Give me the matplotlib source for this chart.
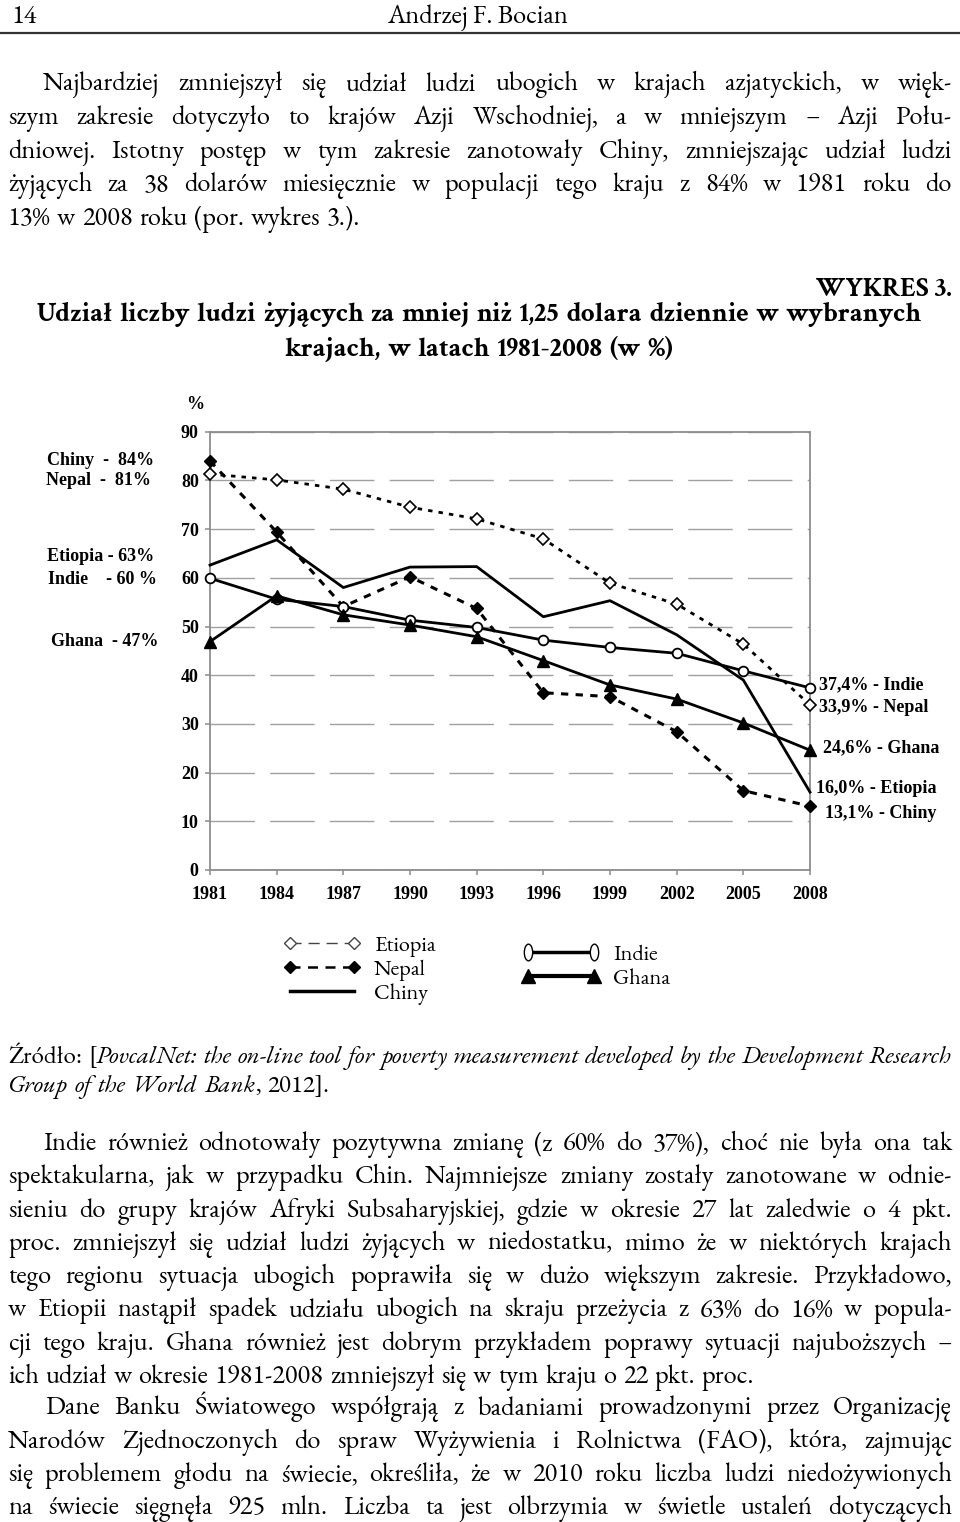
import matplotlib
matplotlib.use('Agg')
import matplotlib.pyplot as plt
from matplotlib.lines import Line2D
from matplotlib.path import Path
from matplotlib.transforms import Affine2D

#page text is set in Garamond, chart labels in a Times-like bold
BODY = ['EB Garamond', 'Liberation Serif', 'DejaVu Serif']
TITLE = ['Crimson Text', 'Liberation Serif', 'DejaVu Serif']
CHART = ['Liberation Serif', 'DejaVu Serif']
plt.rcParams['font.family'] = BODY

#Data (share of people below 1,25 USD a day, %)
years = [1981, 1984, 1987, 1990, 1993, 1996, 1999, 2002, 2005, 2008]
chiny = [84.0, 69.4, 54.1, 60.2, 53.7, 36.4, 35.6, 28.4, 16.3, 13.1]
nepal = [81.3, 80.1, 78.2, 74.5, 72.1, 68.0, 58.9, 54.6, 46.4, 33.9]
etiopia = [62.6, 67.8, 58.0, 62.2, 62.3, 52.0, 55.3, 48.3, 39.0, 16.0]
indie = [59.9, 55.6, 54.1, 51.3, 49.8, 47.2, 45.7, 44.5, 40.9, 37.4]
ghana = [46.9, 56.3, 52.4, 50.3, 47.9, 43.0, 38.0, 35.1, 30.2, 24.6]
y_ticks = [0, 10, 20, 30, 40, 50, 60, 70, 80, 90]

left_notes = ['Chiny  -  84%', 'Nepal  -  81%', 'Etiopia - 63%', 'Indie    - 60 %', 'Ghana  - 47%']
right_notes = ['37,4% - Indie', '33,9% - Nepal', '24,6% - Ghana', '16,0% - Etiopia', '13,1% - Chiny']
legend_left = ['Etiopia', 'Nepal', 'Chiny']
legend_right = ['Indie', 'Ghana']

para1 = ['Najbardziej zmniejszył się udział ludzi ubogich w krajach azjatyckich, w więk-',
         'szym zakresie dotyczyło to krajów Azji Wschodniej, a w mniejszym – Azji Połu-',
         'dniowej. Istotny postęp w tym zakresie zanotowały Chiny, zmniejszając udział ludzi',
         'żyjących za 38 dolarów miesięcznie w populacji tego kraju z 84% w 1981 roku do',
         '13% w 2008 roku (por. wykres 3.).']
source = ['Źródło: [*PovcalNet: the on-line tool for poverty measurement developed by the Development Research*',
          '*Group of the World Bank*, 2012].']
para2 = ['Indie również odnotowały pozytywna zmianę (z 60% do 37%), choć nie była ona tak',
         'spektakularna, jak w przypadku Chin. Najmniejsze zmiany zostały zanotowane w odnie-',
         'sieniu do grupy krajów Afryki Subsaharyjskiej, gdzie w okresie 27 lat zaledwie o 4 pkt.',
         'proc. zmniejszył się udział ludzi żyjących w niedostatku, mimo że w niektórych krajach',
         'tego regionu sytuacja ubogich poprawiła się w dużo większym zakresie. Przykładowo,',
         'w Etiopii nastąpił spadek udziału ubogich na skraju przeżycia z 63% do 16% w popula-',
         'cji tego kraju. Ghana również jest dobrym przykładem poprawy sytuacji najuboższych –',
         'ich udział w okresie 1981-2008 zmniejszył się w tym kraju o 22 pkt. proc.']
para3 = ['Dane Banku Światowego współgrają z badaniami prowadzonymi przez Organizację',
         'Narodów Zjednoczonych do spraw Wyżywienia i Rolnictwa (FAO), która, zajmując',
         'się problemem głodu na świecie, określiła, że w 2010 roku liczba ludzi niedożywionych',
         'na świecie sięgnęła 925 mln. Liczba ta jest olbrzymia w świetle ustaleń dotyczących']

W, H = 960, 1522
fig = plt.figure(figsize=(W / 100, H / 100), dpi=100, facecolor='white')

#page layer in pixel coordinates (y grows downwards)
lax = fig.add_axes([0, 0, 1, 1])
lax.set_xlim(0, W)
lax.set_ylim(H, 0)
lax.axis('off')
lax.patch.set_visible(False)
rend = fig.canvas.get_renderer()


def split_words(text):
    #words as lists of (piece, italic); '*' toggles italic
    words, cur, buf, ital = [], [], '', False
    for ch in text:
        if ch == '*':
            if buf:
                cur.append((buf, ital))
                buf = ''
            ital = not ital
        elif ch == ' ':
            if buf:
                cur.append((buf, ital))
                buf = ''
            if cur:
                words.append(cur)
                cur = []
        else:
            buf += ch
    if buf:
        cur.append((buf, ital))
    if cur:
        words.append(cur)
    return words


def text_line(text, y, x0, x1, size, weight='normal', mode='justify', family=BODY):
    words = split_words(text)
    arts = [[lax.text(0, y, s, fontsize=size, fontweight=weight, family=family,
                      style='italic' if it else 'normal', va='baseline', ha='left')
             for s, it in w] for w in words]

    def widths():
        return [[a.get_window_extent(rend).width for a in w] for w in arts]

    ws = widths()
    total = sum(sum(w) for w in ws)
    n = len(words)
    avail = x1 - x0
    min_gap = 0.2 * size * 100 / 72
    if mode != 'left' and total + (n - 1) * min_gap > avail:
        size = size * avail / (total + (n - 1) * min_gap)
        for w in arts:
            for a in w:
                a.set_fontsize(size)
        ws = widths()
        total = sum(sum(w) for w in ws)
    gap = 0.25 * size * 100 / 72
    if mode == 'justify' and n > 1:
        gap = (avail - total) / (n - 1)
    if mode == 'center':
        x = (x0 + x1) / 2 - (total + (n - 1) * gap) / 2
    elif mode == 'right':
        x = x1 - (total + (n - 1) * gap)
    else:
        x = x0
    for w, wl in zip(arts, ws):
        for a, wd in zip(w, wl):
            a.set_x(x)
            x += wd
        x += gap


def paragraph(lines, y0, step, size, indent=43, x0=8, x1=952, ends=True):
    for i, line in enumerate(lines):
        last = ends and i == len(lines) - 1
        text_line(line, y0 + i * step, (indent if i == 0 else x0), x1, size,
                  mode='left' if last else 'justify')


BODY_SIZE = 19

#header
lax.text(12, 23, '14', fontsize=BODY_SIZE, va='baseline', ha='left')
lax.text(478, 23, 'Andrzej F. Bocian', fontsize=BODY_SIZE, va='baseline', ha='center')
lax.axhline(32.5, color='#333333', lw=1.6)

paragraph(para1, 90.5, 33.6, BODY_SIZE)

#chart titles
lax.text(952, 296, 'WYKRES 3.', fontsize=19.5, fontweight='bold', family=TITLE,
         va='baseline', ha='right')
text_line('Udział liczby ludzi żyjących za mniej niż 1,25 dolara dziennie w wybranych',
          321, 15, 943, 19.5, weight='bold', mode='center', family=TITLE)
text_line('krajach, w latach 1981-2008 (w %)', 356, 15, 943, 19.5, weight='bold',
          mode='center', family=TITLE)

#source and following text
text_line(source[0], 1063, 8, 952, 18, mode='justify')
text_line(source[1], 1092, 8, 952, 18, mode='left')
paragraph(para2, 1150, 33.3, BODY_SIZE, indent=44)
#the last paragraph runs on to the next page, so its last line is justified too
paragraph(para3, 1414.5, 33.3, BODY_SIZE, indent=45, ends=False)

#chart axes placed where the original plot area sits
ax = fig.add_axes([210 / W, (H - 870) / H, 600 / W, (870 - 431.7) / H])
ax.set_xlim(1981, 2008)
ax.set_ylim(0, 90)

ax.plot(years, nepal, color='black', lw=2, ls=(0, (1.6, 2.2)), marker='D', ms=6,
        mfc='white', mec='black', mew=1.2, clip_on=False, zorder=3)
ax.plot(years, chiny, color='black', lw=2.2, ls=(0, (2.4, 2.4)), marker='D', ms=6.5,
        mfc='black', mec='black', clip_on=False, zorder=3)
ax.plot(years, etiopia, color='black', lw=2, clip_on=False, zorder=3)
ax.plot(years, indie, color='black', lw=2, marker='o', ms=7, mfc='white', mec='black',
        mew=1.3, clip_on=False, zorder=3)
ax.plot(years, ghana, color='black', lw=2, marker='^', ms=8, mfc='black', mec='black',
        clip_on=False, zorder=3)

ax.set_xticks(years)
ax.set_yticks(y_ticks)
ax.yaxis.grid(True, ls=(0, (32, 11)), color='#a0a0a0', lw=1)
ax.set_axisbelow(True)
for s in ax.spines.values():
    s.set_color('#8c8c8c')
    s.set_linewidth(1.3)
ax.tick_params(axis='both', direction='out', length=3.6, width=1.1, color='#8c8c8c',
               labelsize=13, labelcolor='black')
ax.tick_params(axis='y', pad=4.5)
ax.tick_params(axis='x', pad=8)
for lab in ax.get_xticklabels() + ax.get_yticklabels():
    lab.set_fontweight('bold')
    lab.set_family(CHART)

#annotations around the plot
lax.text(195, 409, '%', fontsize=13, fontweight='bold', family=CHART, va='baseline', ha='center')
left_pos = [(47, 465), (46, 485), (47, 561), (48, 584), (51, 646)]
for txt, (x, y) in zip(left_notes, left_pos):
    lax.text(x, y, txt, fontsize=13, fontweight='bold', family=CHART, va='baseline', ha='left')
right_pos = [(819, 689), (819, 712), (823, 752), (816, 793), (825, 818)]
for txt, (x, y) in zip(right_notes, right_pos):
    lax.text(x, y, txt, fontsize=13, fontweight='bold', family=CHART, va='baseline', ha='left')

#legend (labels kept exactly as printed in the source)
ellipse = Path.unit_circle().transformed(Affine2D().scale(0.5, 1.0))
h_left = [Line2D([], [], color='#444444', lw=1, ls=(0, (8, 5)), marker='D', ms=6,
                 mfc='white', mec='#444444'),
          Line2D([], [], color='black', lw=1.8, ls=(0, (4, 3)), marker='D', ms=6.5,
                 mfc='black', mec='black'),
          Line2D([], [], color='black', lw=2.5)]
h_right = [Line2D([], [], color='black', lw=2.5, marker=ellipse, ms=12, mfc='white',
                  mec='black', mew=1),
           Line2D([], [], color='black', lw=3, marker='^', ms=10, mfc='black', mec='black')]
leg_font = {'family': BODY, 'size': 16}
fig.legend(h_left, legend_left, loc='upper left', bbox_to_anchor=(283, 935),
           bbox_transform=lax.transData, frameon=False, borderpad=0, borderaxespad=0,
           numpoints=2, handlelength=3.5, handletextpad=0.6, labelspacing=0.12,
           prop=leg_font)
fig.legend(h_right, legend_right, loc='upper left', bbox_to_anchor=(521, 944),
           bbox_transform=lax.transData, frameon=False, borderpad=0, borderaxespad=0,
           numpoints=2, handlelength=3.6, handletextpad=0.55, labelspacing=0.12,
           prop=leg_font)

fig.savefig('out.png', dpi=100, facecolor='white')
